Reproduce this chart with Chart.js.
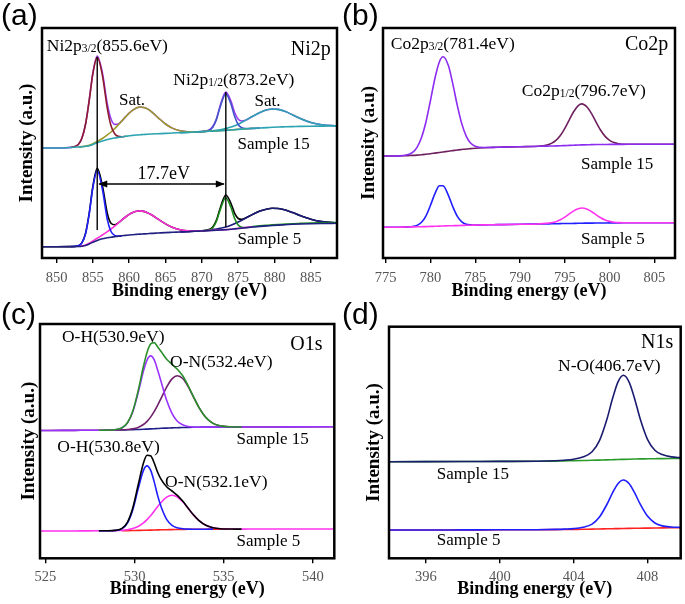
<!DOCTYPE html>
<html>
<head>
<meta charset="utf-8">
<script src="https://cdn.jsdelivr.net/npm/chart.js@4.4.1/dist/chart.umd.min.js"></script>
<style>
  body { margin: 0; background: #fff; width: 685px; height: 604px; position: relative; overflow: hidden; }
  canvas { position: absolute; }
</style>
</head>
<body>
<canvas id="chartNi" width="342" height="302" style="left:0;top:0"></canvas>
<canvas id="chartCo" width="343" height="302" style="left:342px;top:0"></canvas>
<canvas id="chartO" width="342" height="302" style="left:0;top:302px"></canvas>
<canvas id="chartN" width="343" height="302" style="left:342px;top:302px"></canvas>
<script>
// ---- (a) Ni2p ----
const energyNi = [848, 850, 852, 853, 853.5, 854, 854.5, 855, 855.6, 856.3, 857, 857.5, 858, 858.5, 859, 859.5, 860, 860.5, 861, 861.5, 862, 862.5, 863, 864, 865, 866, 867, 868, 869, 870, 870.5, 871, 871.5, 872, 872.5, 873.3, 874, 874.5, 875, 875.5, 876, 877, 878, 879, 879.7, 880.5, 881.5, 882.5, 883.5, 885, 886.5, 888.6];
const ticksNi = [850, 855, 860, 865, 870, 875, 880, 885];

const ni15Background = [110, 110, 110.5, 111, 111.3, 111.7, 112.3, 113.5, 115.2, 117, 118.5, 119.3, 120, 120.6, 121.2, 121.7, 122.2, 122.6, 123, 123.3, 123.5, 123.8, 124, 124.3, 124.6, 125, 125.3, 125.6, 126, 126.3, 126.5, 126.7, 126.9, 127, 127.2, 127.6, 128, 128.3, 128.6, 128.9, 129.2, 129.6, 130, 130.4, 130.7, 131, 131.2, 131.4, 131.6, 131.8, 131.9, 132];
const ni15P32 = [null, null, 110.6, 113.5, 119.9, 134, 157.7, 184.3, 200.7, 183.2, 149.1, 132.2, 124.2, 121.6, 121.3, 121.7, null, null, null, null, null, null, null, null, null, null, null, null, null, null, null, null, null, null, null, null, null, null, null, null, null, null, null, null, null, null, null, null, null, null, null, null];
const ni15Sat1 = [null, null, null, 111, 111.4, 111.9, 112.7, 114.2, 116.5, 119.5, 123.1, 126, 129.4, 133.1, 137.1, 141.1, 144.9, 147.9, 150.1, 151, 150.6, 149.1, 146.7, 140.2, 134, 129.6, 127.2, 126.3, 126.2, 126.4, 126.6, 126.8, 127, 127.1, 127.3, 127.7, 128.1, 128.4, 128.7, 129, 129.3, 129.7, null, null, null, null, null, null, null, null, null, null];
const ni15P12 = [null, null, null, null, null, null, null, null, null, null, null, null, null, null, null, null, null, null, null, null, null, null, null, null, null, null, null, null, 126, 126.3, 126.6, 127.7, 130.8, 138.4, 150.6, 164.1, 154, 141.8, 133.5, 130.2, 129.4, 129.6, 130, null, null, null, null, null, null, null, null, null];
const ni15Sat2 = [null, null, null, null, null, null, null, null, null, null, null, null, null, null, null, null, null, null, null, null, null, null, null, null, null, null, 125.3, 125.6, 126, 126.4, 126.7, 127, 127.3, 127.6, 128.2, 129.4, 130.9, 132.3, 133.8, 135.7, 137.6, 141.7, 145.5, 148.2, 149, 148.6, 146.4, 143.1, 139.7, 135.5, 133.2, 132.2];
const ni15Fit = [110, 110, 110.6, 113.5, 120, 134.2, 158.1, 185, 202, 185.7, 153.7, 138.9, 133.6, 134.1, 137.2, 141.1, 144.9, 147.9, 150.1, 151, 150.6, 149.1, 146.7, 140.2, 134, 129.6, 127.2, 126.3, 126.2, 126.5, 127, 128.1, 131.5, 139, 151.8, 165.9, 156.9, 145.8, 138.7, 137, 137.8, 141.7, 145.5, 148.2, 149, 148.6, 146.4, 143.1, 139.7, 135.5, 133.2, 132.2];

const ni5Background = [11.3, 11.3, 11.4, 11.5, 11.8, 12.5, 14, 15.8, 17.5, 19.2, 20.2, 20.8, 21.3, 21.8, 22.2, 22.6, 23, 23.3, 23.6, 23.9, 24.1, 24.3, 24.6, 25, 25.4, 25.7, 26, 26.3, 26.7, 27, 27.2, 27.4, 27.6, 27.8, 28, 28.3, 28.7, 29.1, 29.5, 29.9, 30.3, 31, 31.6, 32.1, 32.5, 32.9, 33.3, 33.7, 34, 34.3, 34.5, 34.7];
const ni5P32 = [null, null, 11.4, 12.2, 15.1, 24.4, 44.2, 70.3, 87.5, 69.1, 38.2, 26.5, 22.6, 22, 22.2, null, null, null, null, null, null, null, null, null, null, null, null, null, null, null, null, null, null, null, null, null, null, null, null, null, null, null, null, null, null, null, null, null, null, null, null, null];
const ni5Sat1 = [null, null, null, 11.6, 12.1, 13, 14.8, 17.1, 19.7, 23, 26.3, 29, 31.9, 35, 38.1, 41, 43.6, 45.6, 46.7, 47.1, 46.6, 45.3, 43.5, 38.8, 34.1, 30.4, 28.2, 27.2, 27, 27.1, 27.3, 27.5, 27.7, 27.9, 28.1, 28.4, 28.8, 29.2, 29.6, 30, 30.4, 31.1, null, null, null, null, null, null, null, null, null, null];
const ni5P12 = [null, null, null, null, null, null, null, null, null, null, null, null, null, null, null, null, null, null, null, null, null, null, null, null, null, null, null, null, 26.7, 27, 27.3, 27.9, 30.3, 36.5, 47.6, 60.3, 50.7, 39.7, 33, 30.7, 30.5, 31.4, 32.1, 32.7, 33.1, 33.5, 33.9, 34.3, 34.6, 35, 35.2, 35.4];
const ni5Sat2 = [null, null, null, null, null, null, null, null, null, null, null, null, null, null, null, null, null, null, null, null, null, null, null, null, null, null, 26, 26.3, 26.8, 27.2, 27.5, 28, 28.5, 29, 29.7, 31, 32.7, 34.3, 36, 37.8, 39.8, 43.6, 46.9, 49, 49.7, 49.5, 47.9, 45.4, 42.5, 38.8, 36.4, 35.1];
const ni5Fit = [11.3, 11.3, 11.4, 12.3, 15.4, 24.9, 45, 71.6, 89.7, 72.9, 44.3, 34.7, 33.2, 35.2, 38.1, 41, 43.6, 45.6, 46.7, 47.1, 46.6, 45.3, 43.5, 38.8, 34.1, 30.4, 28.2, 27.2, 27.1, 27.3, 27.7, 28.5, 31.1, 37.7, 49.3, 63, 54.7, 44.9, 39.5, 38.6, 39.9, 43.6, 46.9, 49, 49.7, 49.5, 47.9, 45.4, 42.5, 38.8, 36.4, 35.1];

// spin-orbit split guides (peak energy, top and bottom of the marker line)
const splitPeaks = [855.6, 873.3];
const splitTops = [201, 166];
const splitBottoms = [28, 31];
const splitArrowLevel = 74;

// ---- (b) Co2p ----
const energyCo = [774.7, 776, 777, 777.5, 778, 778.5, 779, 779.5, 780, 780.5, 781, 781.4, 782, 782.5, 783, 783.5, 784, 784.5, 785, 786, 787, 788, 790, 792, 793, 793.5, 794, 794.5, 795, 795.5, 796, 796.5, 796.9, 797.5, 798, 798.5, 799, 799.5, 800, 800.5, 801, 802, 804, 807.3];
const ticksCo = [775, 780, 785, 790, 795, 800, 805];
const co15P32 = [102, 102, 102.5, 103.4, 105.6, 110.7, 120.5, 136.3, 157.5, 179.8, 196.3, 201.3, 192.4, 173.8, 152.4, 134.1, 121.7, 114.8, 111.8, 110.5, 110.6, 110.9, 111.3, 111.7, 111.9, 112, 112.1, 112.2, 112.4, 112.6, 112.8, 113, 113.1, 113.2, 113.4, 113.5, 113.5, 113.55, 113.6, 113.6, 113.6, 113.7, 113.7, 113.7];
const co15P12 = [102, 102, 102.2, 102.4, 102.6, 102.9, 103.3, 103.8, 104.3, 104.9, 105.5, 106, 106.8, 107.4, 108, 108.5, 109, 109.4, 109.8, 110.3, 110.6, 110.9, 111.3, 111.8, 113, 114.6, 117.6, 122.5, 129.7, 138.2, 146.5, 152.4, 154.1, 150.8, 144.1, 135.7, 127.7, 121.6, 117.7, 115.4, 114.3, 113.7, 113.7, 113.7];
const co5P32 = [30.7, 30.8, 30.9, 31.1, 31.5, 32.6, 35.7, 42.2, 52.7, 64.4, 72.2, 72.3, 62.7, 51.1, 41.6, 36.2, 33.8, 33.1, 32.9, 33.1, 33.25, 33.4, 33.7, 34, 34.15, 34.2, 34.3, 34.4, 34.5, 34.5, 34.6, 34.7, 34.8, 34.85, 34.9, 34.95, 35, 35, 35.1, 35.1, 35.15, 35.2, 35.3, 35.3];
const co5P12 = [30.7, 30.8, 30.9, 31, 31.1, 31.2, 31.3, 31.4, 31.6, 31.7, 31.9, 32, 32.2, 32.3, 32.4, 32.6, 32.7, 32.8, 32.9, 33.1, 33.25, 33.4, 33.7, 34, 34.6, 35.2, 36.3, 38.2, 40.9, 44.1, 47.1, 49.3, 50, 48.75, 46.3, 43.15, 40.3, 38, 36.6, 35.8, 35.4, 35.2, 35.3, 35.3];

// ---- (c) O1s ----
const energyO = [524.7, 526, 527, 528, 528.5, 528.9, 529.3, 529.6, 529.9, 530.2, 530.5, 530.7, 530.9, 531.1, 531.3, 531.5, 531.8, 532.1, 532.4, 532.7, 533, 533.3, 533.6, 534, 534.4, 534.8, 535.3, 536, 537, 538.5, 541.2];
const ticksO = [525, 530, 535, 540];
const o15Background = [null, null, null, null, 128.2, 128.3, 128.4, 128.5, 128.6, 128.8, 129, 129.2, 129.4, 129.6, 129.8, 130, 130.2, 130.4, 130.6, 130.8, 130.9, 131, 131.1, 131.2, 131.2, 131.3, 131.3, 131.3, null, null, null];
const o15OH = [127.8, 127.9, 128, 128.1, 128.2, 128.6, 130.4, 135.2, 146.3, 165.3, 187.2, 198.2, 202.4, 198.6, 188, 176, 158, 145, 137, 133.5, 131.8, 131.2, 131.1, 131.2, 131.2, 131.3, 131.3, 131.3, 131.3, 131.4, 131.5];
const o15ON = [127.8, 127.9, 128, 128.1, 128.2, 128.3, 128.5, 128.8, 129.4, 130.9, 133.8, 136.9, 141.2, 146.7, 153.2, 160.5, 171.2, 179.4, 182.6, 179.8, 171.9, 161.5, 151.2, 140.8, 134.9, 132.5, 131.5, 131.3, 131.3, 131.4, 131.5];
const o15Fit = [null, null, null, 128.1, 128.2, 128.6, 130.5, 135.5, 147.1, 167.4, 192, 205.9, 214.2, 215.7, 211.4, 206.5, 199, 194, 189, 182.5, 172.8, 161.7, 151.2, 140.8, 134.9, 132.5, 131.5, 131.3, null, null, null];
const o5Background = [null, null, null, null, null, null, 27.6, 27.7, 27.8, 27.9, 28, 28.1, 28.2, 28.3, 28.4, 28.5, 28.6, 28.7, 28.8, 28.9, 29, 29, 29.1, 29.1, 29.2, 29.2, 29.2, null, null, null, null];
const o5OH = [null, null, null, 27.5, 27.5, 27.8, 29.6, 35.2, 48.4, 69.2, 87.9, 92.4, 88.1, 76.7, 62.4, 51, 39, 33, 30.5, 29.6, 29.2, 29.1, 29.1, 29.1, 29.2, null, null, null, null, null, null];
const o5ON = [27.3, 27.3, 27.4, 27.5, 27.5, 27.7, 27.9, 28.5, 29.7, 31.8, 35.4, 38.7, 42.6, 47.1, 51.8, 56.1, 61.1, 63, 61.3, 56.5, 50.1, 43.4, 38, 33, 30.6, 29.6, 29.3, 29.2, 29.3, 29.3, 29.3];
const o5Fit = [null, null, null, 27.5, 27.5, 27.9, 29.9, 36, 50.3, 73.1, 95.3, 103, 102.5, 95.5, 85.8, 78.6, 71.5, 67.3, 63, 57.2, 50.3, 43.5, 38, 33, 30.6, 29.6, 29.3, 29.2, null, null, null];

// ---- (d) N1s ----
const energyN = [394, 396, 398, 400, 402, 403, 403.5, 404, 404.5, 405, 405.4, 405.8, 406.1, 406.4, 406.7, 407, 407.3, 407.6, 408, 408.4, 408.8, 409.3, 409.8];
const ticksN = [396, 400, 404, 408];
const n15Background = [96.6, 96.7, 96.8, 96.9, 97, 97.2, 97.4, 97.6, 97.8, 98, 98.2, 98.4, 98.6, 98.8, 98.95, 99.1, 99.25, 99.4, 99.5, 99.6, 99.7, 99.8, 99.9];
const n15NO = [96.6, 96.7, 96.8, 96.9, 97, 97.5, 98.1, 99.1, 101.3, 106.5, 117.7, 138.8, 159.2, 176.2, 183, 176.5, 159.9, 139.8, 119, 108.1, 103.7, 101.4, 100.7];
const n5Background = [28.3, 28.3, 28.4, 28.5, 28.6, 28.7, 28.8, 28.9, 29, 29.2, 29.3, 29.5, 29.6, 29.7, 29.8, 29.9, 30, 30.1, 30.2, 30.3, 30.4, 30.5, 30.6];
const n5NO = [28.3, 28.3, 28.4, 28.5, 28.6, 28.9, 29.2, 29.7, 31, 34.2, 41.3, 53.8, 65.2, 74.6, 78.3, 74.8, 65.6, 54.4, 42.2, 35.3, 32.4, 31.3, 30.9];

const serif = "'Liberation Serif', 'Times New Roman', serif";
Chart.defaults.font.family = serif;

function curve(xs, ys, color) {
  return {
    data: xs.map((x, i) => ({ x: x, y: ys[i] })),
    borderColor: color,
    borderWidth: 1.6,
    pointRadius: 0,
    fill: false,
    cubicInterpolationMode: "monotone",
  };
}

function drawNote(ctx, note, px, py) {
  const main = note.parts[0][1];
  let total = 0;
  note.parts.forEach(([t, s]) => {
    ctx.font = s + "px " + serif;
    total += ctx.measureText(t).width;
  });
  let cx = px;
  if (note.align === "right") cx = px - total;
  if (note.align === "center") cx = px - total / 2;
  const base = py + main * 0.33;
  note.parts.forEach(([t, s]) => {
    ctx.font = s + "px " + serif;
    ctx.fillText(t, cx, base + (s < main ? 1 : 0));
    cx += ctx.measureText(t).width;
  });
}

const panelDecor = {
  id: "panelDecor",
  afterDatasetsDraw(chart, args, opts) {
    const { ctx, chartArea: a } = chart;
    const sx = chart.scales.x, sy = chart.scales.y;
    ctx.save();
    ctx.fillStyle = "#000";
    ctx.strokeStyle = "#000";
    ctx.textAlign = "left";
    ctx.textBaseline = "alphabetic";
    (opts.notes || []).forEach(n => drawNote(ctx, n, sx.getPixelForValue(n.x), sy.getPixelForValue(n.y)));

    if (opts.guides) {
      const g = opts.guides;
      ctx.lineWidth = 1.4;
      g.peaks.forEach((e, i) => {
        const px = sx.getPixelForValue(e);
        ctx.beginPath();
        ctx.moveTo(px, sy.getPixelForValue(g.tops[i]));
        ctx.lineTo(px, sy.getPixelForValue(g.bottoms[i]));
        ctx.stroke();
      });
      const x1 = sx.getPixelForValue(g.peaks[0]), x2 = sx.getPixelForValue(g.peaks[1]);
      const ay = sy.getPixelForValue(g.level);
      ctx.beginPath();
      ctx.moveTo(x1 + 2, ay);
      ctx.lineTo(x2 - 2, ay);
      ctx.stroke();
      [[x1 + 1, 1], [x2 - 1, -1]].forEach(([tip, dir]) => {
        ctx.beginPath();
        ctx.moveTo(tip, ay);
        ctx.lineTo(tip + dir * 9, ay - 3.5);
        ctx.lineTo(tip + dir * 9, ay + 3.5);
        ctx.closePath();
        ctx.fill();
      });
    }

    ctx.lineWidth = 2.5;
    ctx.strokeRect(a.left, a.top, a.right - a.left, a.bottom - a.top);

    ctx.font = "30px 'Liberation Sans', Arial, sans-serif";
    ctx.textBaseline = "middle";
    ctx.fillText(opts.tag, opts.tagX, opts.tagY);
    ctx.restore();
  },
};

function makePanel(id, p) {
  new Chart(document.getElementById(id), {
    type: "line",
    data: { datasets: p.datasets },
    options: {
      responsive: false,
      animation: false,
      devicePixelRatio: 1,
      layout: { padding: { left: 0, top: p.top, right: p.right, bottom: 0 } },
      scales: {
        x: {
          type: "linear",
          min: p.xMin,
          max: p.xMax,
          afterBuildTicks: s => { s.ticks = p.ticks.map(v => ({ value: v })); },
          afterFit: s => { s.height = p.xHeight; },
          ticks: { color: "#555", font: { size: 14.5 }, padding: p.tickPad, autoSkip: false, maxRotation: 0, callback: v => String(v) },
          grid: { drawOnChartArea: false, tickLength: 5, color: "#000", lineWidth: 1.4 },
          border: { display: false },
          title: {
            display: true,
            text: "Binding energy (eV)",
            color: "#000",
            font: { size: 18, weight: "bold" },
            padding: { top: 0, bottom: p.xTitlePad },
          },
        },
        y: {
          min: 0,
          max: p.yMax,
          afterFit: s => { s.width = p.yWidth; },
          ticks: { display: false },
          grid: { display: false },
          border: { display: false },
          title: {
            display: true,
            text: p.yTitle,
            color: "#000",
            font: { size: 19, weight: "bold" },
            padding: { top: p.yTitlePad, bottom: 0 },
          },
        },
      },
      plugins: {
        legend: { display: false },
        tooltip: { enabled: false },
        panelDecor: { tag: p.tag, tagX: p.tagX, tagY: p.tagY, notes: p.notes, guides: p.guides },
      },
    },
    plugins: [panelDecor],
  });
}

makePanel("chartNi", {
  tag: "(a)", tagX: 1, tagY: 17,
  top: 28, right: 5, yWidth: 42, xHeight: 44, tickPad: 6, xTitlePad: 0, yTitlePad: 16,
  xMin: 848, xMax: 888.6, yMax: 230, ticks: ticksNi, yTitle: "Intensity (a.u.)",
  datasets: [
    curve(energyNi, ni15Background, "#2ba3b0"),
    curve(energyNi, ni15P32, "#8e1b2e"),
    curve(energyNi, ni15Sat1, "#9c9a2a"),
    curve(energyNi, ni15P12, "#4455cc"),
    curve(energyNi, ni15Sat2, "#2ba3b0"),
    curve(energyNi, ni15Fit, "#9a3cf0"),
    curve(energyNi, ni5Background, "#202080"),
    curve(energyNi, ni5P32, "#1f1fff"),
    curve(energyNi, ni5Sat1, "#ff2fd6"),
    curve(energyNi, ni5P12, "#1a8a1a"),
    curve(energyNi, ni5Sat2, "#1b1b7a"),
    curve(energyNi, ni5Fit, "#000000"),
  ],
  guides: { peaks: splitPeaks, tops: splitTops, bottoms: splitBottoms, level: splitArrowLevel },
  notes: [
    { x: 848.66, y: 213, parts: [["Ni2p", 17.5], ["3/2", 11.5], ["(855.6eV)", 17.5]] },
    { x: 887.75, y: 210, parts: [["Ni2p", 20]], align: "right" },
    { x: 860.4, y: 159, parts: [["Sat.", 17]], align: "center" },
    { x: 866.07, y: 179, parts: [["Ni2p", 17.5], ["1/2", 11.5], ["(873.2eV)", 17.5]] },
    { x: 879.05, y: 158, parts: [["Sat.", 17]], align: "center" },
    { x: 874.9, y: 115, parts: [["Sample 15", 17]] },
    { x: 864.75, y: 85, parts: [["17.7eV", 18]], align: "center" },
    { x: 874.9, y: 20, parts: [["Sample 5", 17]] },
  ],
});

makePanel("chartCo", {
  tag: "(b)", tagX: 0, tagY: 17,
  top: 28, right: 10, yWidth: 41, xHeight: 44, tickPad: 6, xTitlePad: 0, yTitlePad: 16,
  xMin: 774.7, xMax: 807.3, yMax: 230, ticks: ticksCo, yTitle: "Intensity (a.u)",
  datasets: [
    curve(energyCo, co15P32, "#8c2cf0"),
    curve(energyCo, co15P12, "#6e1f5e"),
    curve(energyCo, co5P12, "#ff33ee"),
    curve(energyCo, co5P32, "#1f1fff"),
  ],
  notes: [
    { x: 775.56, y: 215, parts: [["Co2p", 17.5], ["3/2", 11.5], ["(781.4eV)", 17.5]] },
    { x: 806.56, y: 215, parts: [["Co2p", 20]], align: "right" },
    { x: 790.2, y: 167.3, parts: [["Co2p", 17.5], ["1/2", 11.5], ["(796.7eV)", 17.5]] },
    { x: 796.8, y: 95, parts: [["Sample 15", 17]] },
    { x: 796.8, y: 20, parts: [["Sample 5", 17]] },
  ],
});

makePanel("chartO", {
  tag: "(c)", tagX: 1, tagY: 14,
  top: 22, right: 7.7, yWidth: 40, xHeight: 45.7, tickPad: 5, xTitlePad: 4, yTitlePad: 17.6,
  xMin: 524.7, xMax: 541.2, yMax: 234.3, ticks: ticksO, yTitle: "Intensity (a.u.)",
  datasets: [
    curve(energyO, o15Fit, "#2a8f2a"),
    curve(energyO, o15OH, "#9a33ff"),
    curve(energyO, o15ON, "#70206a"),
    curve(energyO, o15Background, "#20208a"),
    curve(energyO, o5Fit, "#000000"),
    curve(energyO, o5OH, "#1f1fff"),
    curve(energyO, o5ON, "#ff33ee"),
    curve(energyO, o5Background, "#ff2020"),
  ],
  notes: [
    { x: 525.93, y: 221.6, parts: [["O-H(530.9eV)", 17.5]] },
    { x: 540.54, y: 215.3, parts: [["O1s", 20]], align: "right" },
    { x: 531.99, y: 196.6, parts: [["O-N(532.4eV)", 17.5]] },
    { x: 535.72, y: 120.3, parts: [["Sample 15", 17]] },
    { x: 525.67, y: 111.6, parts: [["O-H(530.8eV)", 17.5]] },
    { x: 531.71, y: 76.6, parts: [["O-N(532.1eV)", 17.5]] },
    { x: 535.72, y: 18.3, parts: [["Sample 5", 17]] },
  ],
});

makePanel("chartN", {
  tag: "(d)", tagX: 0, tagY: 14,
  top: 24.7, right: 4.3, yWidth: 47, xHeight: 45.7, tickPad: 5, xTitlePad: 4, yTitlePad: 20.6,
  xMin: 394, xMax: 409.8, yMax: 231.6, ticks: ticksN, yTitle: "Intensity (a.u.)",
  datasets: [
    curve(energyN, n15NO, "#1b1b70"),
    curve(energyN, n15Background, "#2a9a2a"),
    curve(energyN, n5NO, "#1f1fff"),
    curve(energyN, n5Background, "#ff2020"),
  ],
  notes: [
    { x: 409.4, y: 216.6, parts: [["N1s", 20]], align: "right" },
    { x: 403.16, y: 193.3, parts: [["N-O(406.7eV)", 17.5]] },
    { x: 396.59, y: 85, parts: [["Sample 15", 17]] },
    { x: 396.59, y: 19, parts: [["Sample 5", 17]] },
  ],
});
</script>
</body>
</html>
